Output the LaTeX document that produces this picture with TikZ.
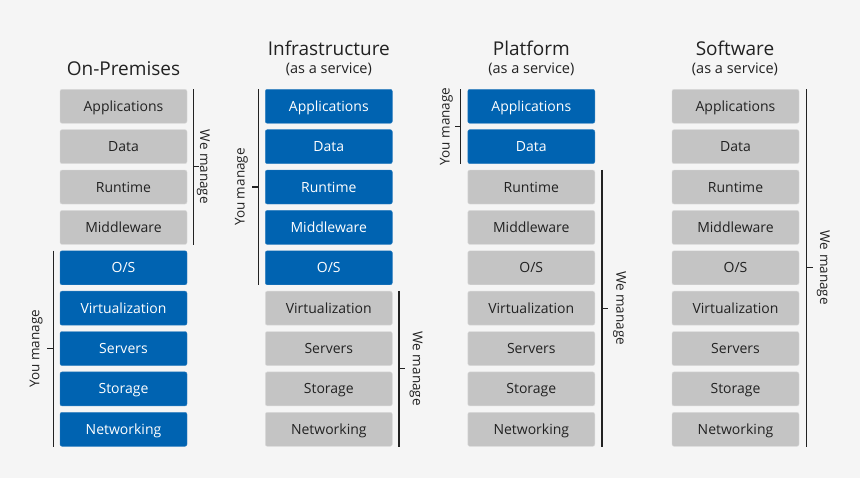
\documentclass[tikz,border=0pt]{standalone}
\usepackage{fontspec}
\setmainfont{Open Sans}
\definecolor{paper}{HTML}{F5F5F5}
\definecolor{azure}{HTML}{0063B1}
\definecolor{slab}{HTML}{C4C4C4}
\definecolor{ink}{HTML}{222222}
\newcommand{\layers}{Applications,Data,Runtime,Middleware,O/S,Virtualization,Servers,Storage,Networking}
\tikzset{
	layer/.style={minimum width=127pt,minimum height=34pt,inner sep=0pt,rounded corners=2pt,
		font=\fontsize{14}{16}\selectfont,text height=10pt,text depth=0pt},
	ours/.style={layer,fill=azure,draw=azure!80!white,text=white},
	theirs/.style={layer,fill=slab,draw=slab!60!white,text=ink},
	brace/.style={draw=ink,line width=1.2pt},
	who/.style={font=\fontsize{13.5}{16}\selectfont,text=ink,inner sep=0pt,anchor=south},
	title/.style={font=\fontsize{19}{22}\selectfont,text=ink,anchor=base},
	subtitle/.style={font=\fontsize{14.5}{17}\selectfont,text=ink,anchor=base}
}

\begin{document}
\begin{tikzpicture}[x=1pt,y=-1pt]
	\fill[paper] (0,0) rectangle (860,478);
	% titles
	\node[title] (optitle) at (123.5,75.5) {On-Premises};
	\node[title] (iaastitle) at (328.8,56) {Infrastructure};
	\node[subtitle] (iaassub) at (328.8,73.3) {(as a service)};
	\node[title] (paastitle) at (531.3,56) {Platform};
	\node[subtitle] (paassub) at (531.3,73.3) {(as a service)};
	\node[title] (saastitle) at (735,56) {Software};
	\node[subtitle] (saassub) at (735,73.3) {(as a service)};
	% stacks: rows \from..\to are managed by you
	\foreach \col/\cx/\from/\to in {op/123.5/5/9,iaas/328.8/1/5,paas/531.3/1/2,saas/735.5/0/0}{
		\foreach \lbl [count=\i] in \layers {
			\ifnum\i<\from \def\kind{theirs}\else\ifnum\i>\to \def\kind{theirs}\else\def\kind{ours}\fi\fi
			\node[\kind] (\col\i) at (\cx,106.3+40.375*\i-40.375) {\lbl};}}
	% On-Premises
	\draw[brace] ([xshift=6pt]op1.north east) -- ([xshift=6pt]op4.south east) coordinate[pos=.5] (opwe);
	\draw[brace] (opwe) -- ++(6,0);
	\node[who,rotate=-90] (opwetxt) at ([xshift=3.5pt]opwe) {We manage};
	\draw[brace] ([xshift=-6.5pt]op5.north west) -- ([xshift=-6.5pt]op9.south west) coordinate[pos=.5] (opyou);
	\draw[brace] (opyou) -- ++(-6,0);
	\node[who,rotate=90] (opyoutxt) at ([xshift=-10.5pt]opyou) {You manage};
	% Infrastructure
	\draw[brace] ([xshift=-7pt]iaas1.north west) -- ([xshift=-7pt]iaas5.south west) coordinate[pos=.5] (iaasyou);
	\draw[brace] (iaasyou) -- ++(-6,0);
	\node[who,rotate=90] (iaasyoutxt) at ([xshift=-10pt]iaasyou) {You manage};
	\draw[brace] ([xshift=6.5pt]iaas6.north east) -- ([xshift=6.5pt]iaas9.south east) coordinate[pos=.5] (iaaswe);
	\draw[brace] (iaaswe) -- ++(6,0);
	\node[who,rotate=-90] (iaaswetxt) at ([xshift=10.5pt]iaaswe) {We manage};
	% Platform
	\draw[brace] ([xshift=-7pt]paas1.north west) -- ([xshift=-7pt]paas2.south west) coordinate[pos=.5] (paasyou);
	\draw[brace] (paasyou) -- ++(-6,0);
	\node[who,rotate=90] (paasyoutxt) at ([xshift=-7.5pt]paasyou) {You manage};
	\draw[brace] ([xshift=7pt]paas3.north east) -- ([xshift=7pt]paas9.south east) coordinate[pos=.5] (paaswe);
	\draw[brace] (paaswe) -- ++(6,0);
	\node[who,rotate=-90] (paaswetxt) at ([xshift=11pt]paaswe) {We manage};
	% Software
	\draw[brace] ([xshift=7.5pt]saas1.north east) -- ([xshift=7.5pt]saas9.south east) coordinate[pos=.5] (saaswe);
	\draw[brace] (saaswe) -- ++(6,0);
	\node[who,rotate=-90] (saaswetxt) at ([xshift=10pt]saaswe) {We manage};
\end{tikzpicture}
\end{document}
